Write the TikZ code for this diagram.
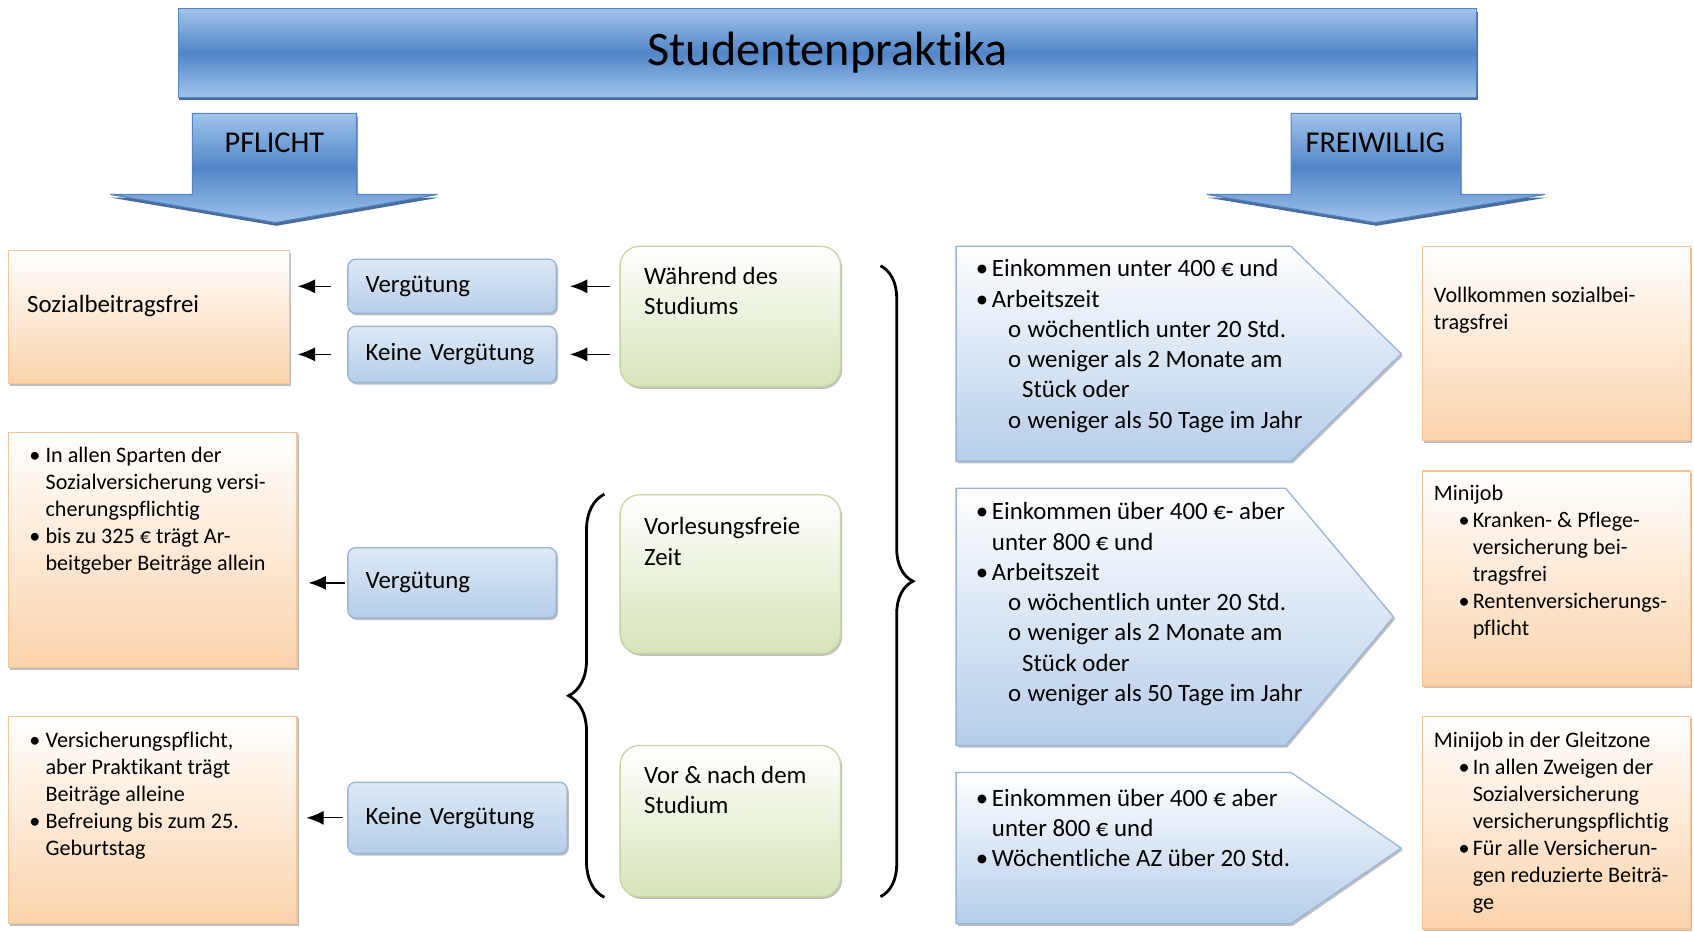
\documentclass[tikz,border=0pt]{standalone}
\usepackage{fontspec}
\setmainfont{Carlito}[Ligatures={NoCommon,NoContextual}]
\usetikzlibrary{arrows.meta,decorations.pathreplacing,shadows,positioning}

\definecolor{barlight}{RGB}{160,196,235}
\definecolor{bardark}{RGB}{82,133,200}
\definecolor{barline}{RGB}{54,92,140}
\definecolor{orafill}{RGB}{251,211,172}
\definecolor{oraline}{RGB}{248,196,150}
\definecolor{blufill}{RGB}{182,205,233}
\definecolor{bluline}{RGB}{150,180,216}
\definecolor{grnfill}{RGB}{214,228,186}
\definecolor{grnline}{RGB}{196,215,158}

\newcommand{\bigfont}{\fontsize{23}{28}\selectfont}
\newcommand{\smlfont}{\fontsize{20.5}{25}\selectfont}
\newcommand{\itm}{\makebox[15pt][l]{\textbullet}}
\newcommand{\cnt}{\makebox[15pt]{}}
\newcommand{\sitm}{\makebox[30pt]{}\makebox[18pt][l]{o}}
\newcommand{\scnt}{\makebox[43pt]{}}
\newcommand{\ritm}{\makebox[23pt]{}\makebox[13pt][l]{\textbullet}}
\newcommand{\rcnt}{\makebox[36pt]{}}

\tikzset{
  shd/.style={drop shadow={shadow xshift=1.5pt,shadow yshift=-2pt,opacity=.25,fill=black}},
  bar/.style={draw=bardark, line width=1pt, top color=barlight, bottom color=barlight, middle color=bardark,
    drop shadow={shadow xshift=1pt,shadow yshift=-3pt,opacity=.9,fill=barline}},
  orabox/.style={draw=oraline, line width=1.2pt, top color=white, bottom color=orafill, shd},
  blubox/.style={draw=bluline, line width=1.2pt, rounded corners=7pt, top color=blufill!45, bottom color=blufill,
    shd, align=left, inner xsep=16.5pt, font=\bigfont},
  grnbox/.style={draw=grnline, line width=1.2pt, rounded corners=18pt, top color=white, bottom color=grnfill, shd},
  sigbox/.style={draw=bluline, line width=1.2pt, top color=white, bottom color=blufill, shd},
  bigtxt/.style={font=\bigfont, align=left, inner sep=0pt},
  smltxt/.style={font=\smlfont, align=left, inner sep=0pt},
  arr/.style={-{Latex[length=16pt,width=13pt]}, line width=1.2pt},
  brc/.style={decorate, line width=2.6pt},
}

\begin{document}
\begin{tikzpicture}[x=1pt,y=-1pt]
  \useasboundingbox (0,0) rectangle (1568,862.6);
  % title and the two branches
  \node[bar, minimum width=1202pt, minimum height=82pt, font=\fontsize{44.6}{50}\selectfont] (title) at (766,49) {Studentenpraktika};
  \path[bar] (178,105) -- (330,105) -- (330,180) -- (405,180) -- (255,206) -- (102,180) -- (178,180) -- cycle;
  \path[bar] (1195,105) -- (1352,105) -- (1352,180) -- (1430,180) -- (1273,206) -- (1117,180) -- (1195,180) -- cycle;
  \node[font=\fontsize{28}{30}\selectfont] (pflicht) at (254,132) {PFLICHT};
  \node[font=\fontsize{28}{30}\selectfont] (freiw) at (1273,132) {FREIWILLIG};

  % left: results
  \node[orabox, minimum width=260pt, minimum height=123pt] (soz) at (138,293.5) {};
  \node[bigtxt, anchor=west] (sozt) at (25,283) {Sozialbeitragsfrei};
  \node[orabox, minimum width=267pt, minimum height=218pt] (pfl2) at (141.5,509) {};
  \node[smltxt, anchor=north west] (pfl2t) at (27,414) {\itm In allen Sparten der\\ \cnt Sozialversicherung versi-\\ \cnt cherungspflichtig\\ \itm bis zu 325 € trägt Ar-\\ \cnt beitgeber Beiträge allein};
  \node[orabox, minimum width=267pt, minimum height=192pt] (pfl3) at (141.5,759) {};
  \node[smltxt, anchor=north west] (pfl3t) at (27,677) {\itm Versicherungspflicht,\\ \cnt aber Praktikant trägt\\ \cnt Beiträge alleine\\ \itm Befreiung bis zum 25.\\ \cnt Geburtstag};

  % payment
  \node[blubox, text width=160pt, minimum height=50pt] (verg1) at (418.5,265) {Vergütung};
  \node[blubox, text width=160pt, minimum height=52pt] (keine1) at (418.5,328) {Keine Vergütung};
  \node[blubox, text width=160pt, minimum height=65pt] (verg2) at (418.5,539.5) {Vergütung};
  \node[blubox, text width=170pt, minimum height=66pt] (keine2) at (423.5,757) {Keine Vergütung};

  % time of the internship
  \node[grnbox, minimum width=204pt, minimum height=130pt] (waehrend) at (676,293) {};
  \node[bigtxt, anchor=north west] (waehrendt) at (596,247) {Während des\\Studiums};
  \node[grnbox, minimum width=204pt, minimum height=147pt] (vorlfrei) at (676,531.5) {};
  \node[bigtxt, anchor=north west] (vorlfreit) at (596,479) {Vorlesungsfreie\\Zeit};
  \node[grnbox, minimum width=204pt, minimum height=140pt] (vornach) at (676,760) {};
  \node[bigtxt, anchor=north west] (vornacht) at (596,709) {Vor \& nach dem\\Studium};

  % right: conditions
  \path[sigbox] (885,228) -- (1195,228) -- (1297,327.5) -- (1195,427) -- (885,427) -- cycle;
  \node[bigtxt, anchor=north west] (frei1t) at (903,240) {\itm Einkommen unter 400 € und\\ \itm Arbeitszeit\\ \sitm wöchentlich unter 20 Std.\\ \sitm weniger als 2 Monate am\\ \scnt Stück oder\\ \sitm weniger als 50 Tage im Jahr};
  \path[sigbox] (885,452) -- (1190,452) -- (1290,571) -- (1190,690) -- (885,690) -- cycle;
  \node[bigtxt, anchor=north west] (frei2t) at (903,465) {\itm Einkommen über 400 €- aber\\ \cnt unter 800 € und\\ \itm Arbeitszeit\\ \sitm wöchentlich unter 20 Std.\\ \sitm weniger als 2 Monate am\\ \scnt Stück oder\\ \sitm weniger als 50 Tage im Jahr};
  \path[sigbox] (885,715) -- (1195,715) -- (1297,785) -- (1195,855) -- (885,855) -- cycle;
  \node[bigtxt, anchor=north west] (frei3t) at (903,730) {\itm Einkommen über 400 € aber\\ \cnt unter 800 € und\\ \itm Wöchentliche AZ über 20 Std.};

  % right: results
  \node[orabox, minimum width=248pt, minimum height=180pt] (frei1r) at (1441,318) {};
  \node[smltxt, anchor=north west] (frei1rt) at (1327,266) {Vollkommen sozialbei-\\tragsfrei};
  \node[orabox, minimum width=248pt, minimum height=199pt] (frei2r) at (1441,535.5) {};
  \node[smltxt, anchor=north west] (frei2rt) at (1327,449) {Minijob\\ \ritm Kranken- \& Pflege-\\ \rcnt versicherung bei-\\ \rcnt tragsfrei\\ \ritm Rentenversicherungs-\\ \rcnt pflicht};
  \node[orabox, minimum width=248pt, minimum height=197pt] (frei3r) at (1441,761.5) {};
  \node[smltxt, anchor=north west] (frei3rt) at (1327,677) {Minijob in der Gleitzone\\ \ritm In allen Zweigen der\\ \rcnt Sozialversicherung\\ \rcnt versicherungspflichtig\\ \ritm Für alle Versicherun-\\ \rcnt gen reduzierte Beiträ-\\ \rcnt ge};

  % arrows
  \draw[arr, shorten <=9pt, shorten >=12pt] (waehrend.west |- verg1) -- (verg1.east);
  \draw[arr, shorten <=9pt, shorten >=12pt] (waehrend.west |- keine1) -- (keine1.east);
  \draw[arr, shorten <=15pt, shorten >=7pt] (verg1.west) -- (verg1.west -| soz.east);
  \draw[arr, shorten <=15pt, shorten >=7pt] (keine1.west) -- (keine1.west -| soz.east);
  \draw[arr, shorten <=2pt, shorten >=10pt] (verg2.west) -- (verg2.west -| pfl2.east);
  \draw[arr, shorten <=4pt, shorten >=8pt] (keine2.west) -- (keine2.west -| pfl3.east);

  % braces
  \draw[brc, decoration={brace, amplitude=33pt}] ([xshift=-14pt]vornach.south west) -- ([xshift=-14pt]vorlfrei.north west);
  \draw[brc, decoration={brace, amplitude=30pt}] (815,246) -- (815,830);
\end{tikzpicture}
\end{document}
